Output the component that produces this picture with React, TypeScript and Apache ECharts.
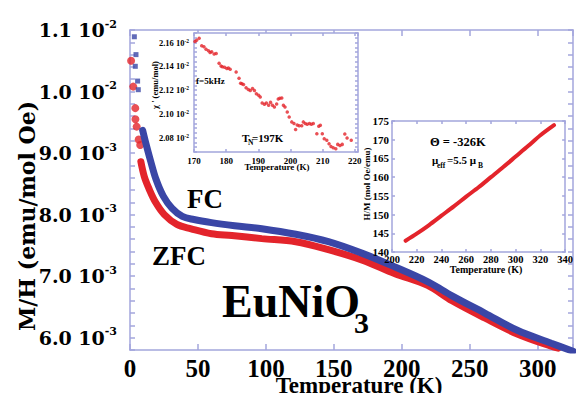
import React, { useEffect, useRef } from 'react';
import * as echarts from 'echarts';

const SERIF = 'Liberation Serif';
const WIDE = 'DejaVu Serif';
const AXIS = '#a3a6dc';
const BLUE = '#3a46a6';
const RED = '#e3242b';

// Main plot: T (K) vs M/H in units of 1e-3 emu/mol Oe
const zfcCurve: number[][] = [
  [8, 8.86], [10.5, 8.62], [14, 8.42], [18.8, 8.2], [25.3, 8.0], [34.5, 7.84], [45, 7.77],
  [60, 7.69], [75, 7.66], [97, 7.61], [122, 7.56], [146, 7.43], [171, 7.26], [195, 7.04],
  [219, 6.85], [237, 6.6], [261, 6.32], [285, 6.06], [310, 5.86], [315, 5.83],
];
const zfcLowT: number[][] = [
  [0.8, 10.5], [2.4, 10.08], [3.9, 9.73], [4.0, 9.55], [4.9, 9.43], [6.4, 9.22], [7.5, 9.13],
];
const fcCurve: number[][] = [
  [9.3, 9.37], [11.2, 9.2], [15.2, 8.87], [19.2, 8.57], [24.5, 8.3], [31, 8.1], [38.5, 7.97],
  [47, 7.92], [60, 7.87], [77, 7.82], [97, 7.77], [122, 7.68], [146, 7.56], [171, 7.37],
  [195, 7.15], [220, 6.9], [237, 6.68], [261, 6.4], [285, 6.12], [310, 5.91], [326, 5.78],
];
const fcLowT: number[][] = [
  [3.2, 10.89], [4.4, 10.6], [3.9, 10.41], [5.6, 10.17], [6.1, 10.03],
];

const mainXTicks = [0, 50, 100, 150, 200, 250, 300];
const mainYTicks = [6, 7, 8, 9, 10, 11];
const mainYTickText = ['6.0 10', '7.0 10', '8.0 10', '9.0 10', '1.0 10', '1.1 10'];
const mainYTickExp = ['-3', '-3', '-3', '-3', '-2', '-2'];

// Inset 1: chi' (1e-2 emu/mol) vs T
const chiData: number[][] = [
  [170.3, 2.1608], [170.8, 2.1619], [171.6, 2.1636], [172.4, 2.1572], [173.1, 2.1564], [173.75, 2.1544],
  [174.5, 2.1531], [175.0, 2.1517], [175.5, 2.1522], [176.25, 2.1503], [176.9, 2.1508], [177.8, 2.1425],
  [178.4, 2.1403], [178.8, 2.1397], [179.5, 2.1392], [180.2, 2.1381], [180.7, 2.1386], [181.25, 2.1375],
  [183.1, 2.1353], [184.0, 2.13], [184.5, 2.1258], [184.9, 2.1253], [185.4, 2.1247], [186.2, 2.1219],
  [186.9, 2.1206], [187.5, 2.1197], [188.2, 2.1214], [188.8, 2.1197], [189.4, 2.1169], [190.1, 2.1156],
  [190.6, 2.1142], [191.2, 2.1092], [191.9, 2.1081], [192.5, 2.1092], [193.2, 2.1072], [193.8, 2.1097],
  [194.4, 2.1072], [195.0, 2.1058], [195.7, 2.1084], [196.2, 2.1125], [196.7, 2.1131], [197.3, 2.1133],
  [197.8, 2.1072], [198.3, 2.1058], [199.0, 2.1017], [199.6, 2.0975], [200.4, 2.0933], [201.1, 2.0919],
  [201.6, 2.0869], [202.1, 2.0906], [202.7, 2.09], [203.5, 2.09], [204.0, 2.0933], [204.6, 2.0919],
  [205.2, 2.0914], [205.9, 2.0919], [206.5, 2.0914], [207.1, 2.0919], [208.2, 2.0834], [208.8, 2.0896],
  [209.3, 2.0904], [209.9, 2.0834], [210.5, 2.0791], [211.3, 2.0778], [212.0, 2.0749], [212.6, 2.0727],
  [213.3, 2.0716], [214.1, 2.0707], [214.7, 2.0744], [215.4, 2.0735], [216.1, 2.0744], [216.9, 2.0831],
  [217.6, 2.0798], [218.9, 2.0778],
];
const chiXTicks = [170, 180, 190, 200, 210, 220];
const chiYTicks = [2.08, 2.1, 2.12, 2.14, 2.16];
const chiYTickText = ['2.08 10', '2.10 10', '2.12 10', '2.14 10', '2.16 10'];
const chiArrow = { T: 196.7, from: 2.085, to: 2.102 };

// Inset 2: H/M (mol Oe/emu) vs T
const hmData: number[][] = [
  [211, 143.0], [220, 144.9], [230, 147.2], [240, 149.7], [250, 152.2], [260, 154.8], [270, 157.3],
  [280, 160.0], [290, 162.7], [300, 165.5], [310, 168.3], [320, 171.2], [331, 173.9],
];
const hmXTicks = [200, 220, 240, 260, 280, 300, 320, 340];
const hmYTicks = [140, 145, 150, 155, 160, 165, 170, 175];

const near = (arr: number[], v: number) => arr.findIndex((t) => Math.abs(t - v) < 1e-6);

function tickAxis(gridIndex: number, position: string, opts: any, len: number, labels: any) {
  return {
    gridIndex,
    type: 'value',
    position,
    ...opts,
    axisLine: { show: true, onZero: false, lineStyle: { color: AXIS, width: 1.5 } },
    axisTick: { show: true, inside: true, length: len, lineStyle: { color: AXIS, width: 1.5 } },
    splitLine: { show: false },
    axisLabel: labels || { show: false },
  };
}

export default function App() {
  const ref = useRef<HTMLDivElement>(null);
  useEffect(() => {
    if (!ref.current) return;
    const chart = echarts.init(ref.current, null, { renderer: 'svg' });
    const bold = { fontFamily: SERIF, fontWeight: 'bold', color: '#000' };

    const mainX = { min: 0, max: 326, interval: 50 };
    const mainY = { min: 5.8, max: 11, interval: 0.2 };
    const inXa = { min: 170, max: 221, interval: 10 };
    const inYa = { min: 2.068, max: 2.168, interval: 0.004 };
    const inXb = { min: 200, max: 340, interval: 20 };
    const inYb = { min: 140, max: 175, interval: 5 };

    const z = { z: 11 };

    const txt = (text: string, x: number, y: number, size: number, extra: any = {}) => ({
      type: 'text',
      x,
      y,
      z: 50,
      rotation: extra.rotation || 0,
      style: {
        text,
        fill: '#000',
        fontFamily: extra.family || SERIF,
        fontWeight: 'bold',
        fontSize: size,
        align: extra.align || 'left',
        verticalAlign: 'middle',
      },
    });

    chart.setOption({
      animation: false,
      backgroundColor: '#fff',
      grid: [
        { left: 130, top: 30, width: 446, height: 320 },
        { left: 194, top: 33, width: 164, height: 119, show: true, backgroundColor: '#fff', borderWidth: 0, z: 10 },
        { left: 392, top: 121, width: 181, height: 131, show: true, backgroundColor: '#fff', borderWidth: 0, z: 10 },
      ],
      xAxis: [
        tickAxis(0, 'bottom', mainX, 6, {
          ...bold,
          fontSize: 25,
          margin: 6,
          formatter: (v: number) => (near(mainXTicks, v) >= 0 ? String(v) : ''),
        }),
        tickAxis(0, 'top', mainX, 6, null),
        tickAxis(1, 'bottom', { ...inXa, ...z }, 3, {
          ...bold,
          fontSize: 9,
          margin: 4,
          formatter: (v: number) => (near(chiXTicks, v) >= 0 ? String(v) : ''),
        }),
        tickAxis(1, 'top', { ...inXa, ...z }, 3, null),
        tickAxis(2, 'bottom', { ...inXb, ...z }, 3, {
          ...bold,
          fontSize: 10.5,
          margin: 2,
          formatter: (v: number) => (near(hmXTicks, v) >= 0 ? String(v) : ''),
        }),
        tickAxis(2, 'top', { ...inXb, ...z }, 3, null),
      ],
      yAxis: [
        tickAxis(0, 'left', mainY, 5, {
          margin: 13,
          formatter: (v: number) => {
            const i = near(mainYTicks, v);
            return i >= 0 ? `{a|${mainYTickText[i]}}{s|${mainYTickExp[i]}}` : '';
          },
          rich: {
            a: { fontFamily: WIDE, fontWeight: 'bold', fontSize: 19, lineHeight: 23, color: '#000' },
            s: { fontFamily: WIDE, fontWeight: 'bold', fontSize: 11, lineHeight: 11, color: '#000', verticalAlign: 'top' },
          },
        }),
        tickAxis(0, 'right', mainY, 5, null),
        tickAxis(1, 'left', { ...inYa, ...z }, 3, {
          margin: 5,
          formatter: (v: number) => {
            const i = near(chiYTicks, v);
            return i >= 0 ? `{a|${chiYTickText[i]}}{s|-2}` : '';
          },
          rich: {
            a: { fontFamily: SERIF, fontWeight: 'bold', fontSize: 8.5, lineHeight: 10, color: '#000' },
            s: { fontFamily: SERIF, fontWeight: 'bold', fontSize: 5.5, lineHeight: 6, color: '#000', verticalAlign: 'top' },
          },
        }),
        tickAxis(1, 'right', { ...inYa, ...z }, 3, null),
        tickAxis(2, 'left', { ...inYb, ...z }, 3, {
          ...bold,
          fontSize: 11,
          margin: 3,
          formatter: (v: number) => (near(hmYTicks, v) >= 0 ? String(v) : ''),
        }),
        tickAxis(2, 'right', { ...inYb, ...z }, 3, null),
      ],
      series: [
        {
          type: 'line', xAxisIndex: 0, yAxisIndex: 0, data: zfcCurve, smooth: 0.35, showSymbol: false,
          lineStyle: { color: RED, width: 7, cap: 'round' }, z: 2,
        },
        {
          type: 'scatter', xAxisIndex: 0, yAxisIndex: 0, data: zfcLowT, symbol: 'circle', symbolSize: 8,
          itemStyle: { color: RED }, z: 2,
        },
        {
          type: 'line', xAxisIndex: 0, yAxisIndex: 0, data: fcCurve, smooth: 0.35, showSymbol: false,
          lineStyle: { color: BLUE, width: 7, cap: 'round' }, z: 3,
        },
        {
          type: 'scatter', xAxisIndex: 0, yAxisIndex: 0, data: fcLowT, symbol: 'rect', symbolSize: 5,
          itemStyle: { color: BLUE }, z: 3,
        },
        {
          type: 'scatter', xAxisIndex: 2, yAxisIndex: 2, data: chiData, symbol: 'circle', symbolSize: 3.5,
          itemStyle: { color: RED }, z: 12,
          markLine: {
            silent: true,
            symbol: ['none', 'arrow'],
            symbolSize: [6, 8],
            label: { show: false },
            lineStyle: { color: '#000', width: 1.5, type: 'solid' },
            data: [[{ coord: [chiArrow.T, chiArrow.from] }, { coord: [chiArrow.T, chiArrow.to] }]],
          },
        },
        {
          type: 'line', xAxisIndex: 4, yAxisIndex: 4, data: hmData, smooth: 0.3, showSymbol: false,
          lineStyle: { color: RED, width: 4, cap: 'round' }, z: 12,
        },
      ],
      graphic: [
        txt('M/H (emu/mol Oe)', 27, 216, 22, { rotation: Math.PI / 2, align: 'center', family: WIDE }),
        txt('Temperature (K)', 359, 385, 23, { align: 'center' }),
        txt('FC', 187, 199, 27),
        txt('ZFC', 152, 256, 27),
        txt('EuNiO', 222, 301, 46),
        txt('3', 354, 322, 30),
        txt("χ ' (emu/mol)", 155, 85, 8.5, { rotation: Math.PI / 2, align: 'center' }),
        txt('Temperature (K)', 277, 167, 9, { align: 'center' }),
        txt('f=5kHz', 196, 81, 9),
        txt('T', 242, 138, 11),
        txt('N', 248, 142, 7.5),
        txt('=197K', 252, 138, 11),
        txt('H/M (mol Oe/emu)', 367, 184, 9, { rotation: Math.PI / 2, align: 'center' }),
        txt('Temperature (K)', 486, 269, 10, { align: 'center' }),
        txt('Θ = -326K', 430, 142, 12.5),
        txt('μ', 432, 160, 11),
        txt('eff', 437, 165, 7.5),
        txt('=5.5 μ', 447, 160, 11),
        txt('B', 478, 165, 7.5),
      ],
    });
    return () => chart.dispose();
  }, []);
  return <div ref={ref} style={{ position: 'absolute', left: 0, top: 0, width: 576, height: 393 }} />;
}
